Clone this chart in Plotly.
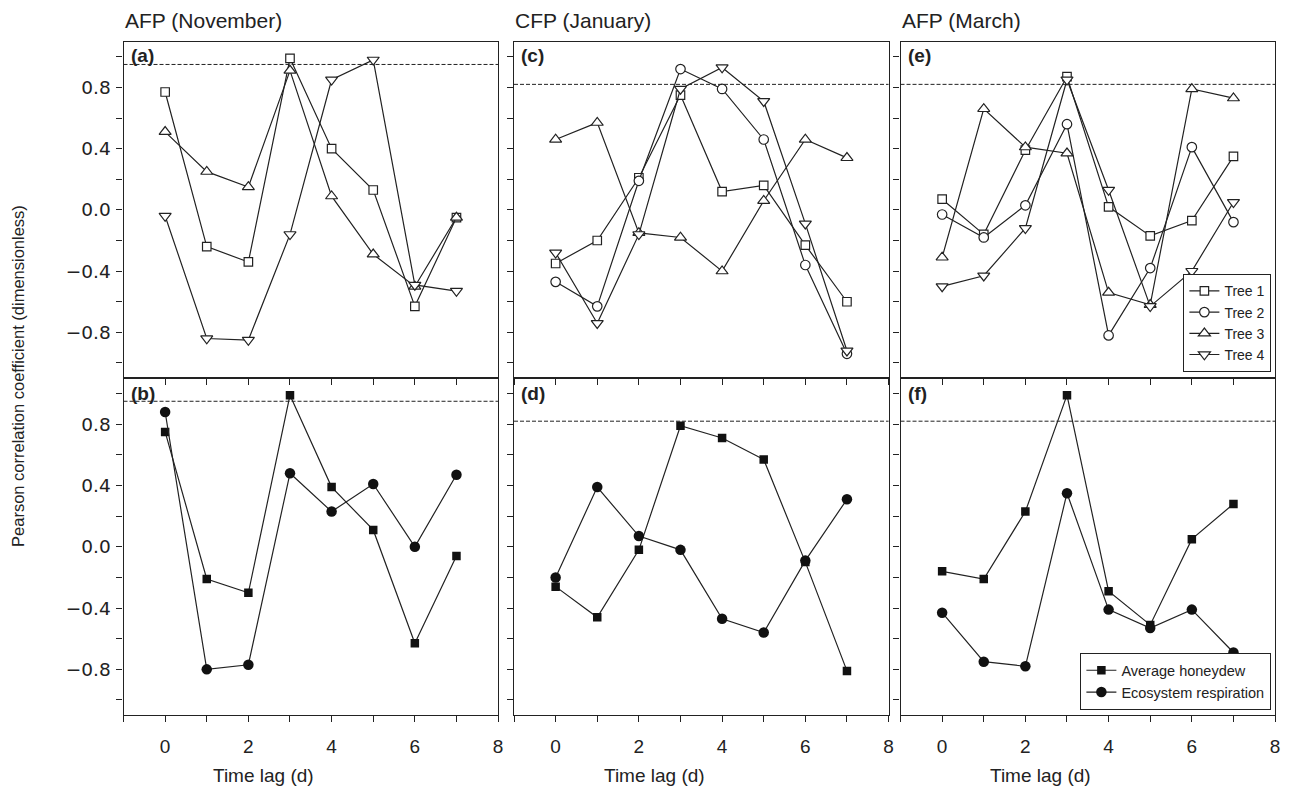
import plotly.graph_objects as go

# ---------------- data ----------------
lags = [0, 1, 2, 3, 4, 5, 6, 7]

# top row: individual trees
nov_tree1 = [0.77, -0.24, -0.34, 0.99, 0.40, 0.13, -0.63, -0.05]
nov_tree3 = [0.51, 0.25, 0.15, 0.91, 0.09, -0.29, -0.50, -0.05]
nov_tree4 = [-0.04, -0.84, -0.85, -0.16, 0.85, 0.98, -0.49, -0.53]

jan_tree1 = [-0.35, -0.20, 0.21, 0.75, 0.12, 0.16, -0.23, -0.60]
jan_tree2 = [-0.47, -0.63, 0.19, 0.92, 0.79, 0.46, -0.36, -0.94]
jan_tree3 = [0.46, 0.57, -0.15, -0.18, -0.40, 0.06, 0.46, 0.34]
jan_tree4 = [-0.28, -0.74, -0.16, 0.79, 0.93, 0.71, -0.09, -0.92]

mar_tree1 = [0.07, -0.16, 0.39, 0.87, 0.02, -0.17, -0.07, 0.35]
mar_tree2 = [-0.03, -0.18, 0.03, 0.56, -0.82, -0.38, 0.41, -0.08]
mar_tree3 = [-0.31, 0.66, 0.41, 0.37, -0.54, -0.62, 0.79, 0.73]
mar_tree4 = [-0.50, -0.43, -0.12, 0.85, 0.13, -0.63, -0.40, 0.05]

# bottom row: average honeydew & ecosystem respiration
nov_honeydew = [0.75, -0.21, -0.30, 0.99, 0.39, 0.11, -0.63, -0.06]
nov_resp = [0.88, -0.80, -0.77, 0.48, 0.23, 0.41, 0.00, 0.47]
jan_honeydew = [-0.26, -0.46, -0.02, 0.79, 0.71, 0.57, -0.10, -0.81]
jan_resp = [-0.20, 0.39, 0.07, -0.02, -0.47, -0.56, -0.09, 0.31]
mar_honeydew = [-0.16, -0.21, 0.23, 0.99, -0.29, -0.51, 0.05, 0.28]
mar_resp = [-0.43, -0.75, -0.78, 0.35, -0.41, -0.53, -0.41, -0.69]

column_titles = ["AFP (November)", "CFP (January)", "AFP (March)"]
panel_labels_top = ["(a)", "(c)", "(e)"]
panel_labels_bottom = ["(b)", "(d)", "(f)"]
thresholds = [0.95, 0.82, 0.82]

tree_names = ["Tree 1", "Tree 2", "Tree 3", "Tree 4"]
tree_symbols = ["square", "circle", "triangle-up", "triangle-down"]
tree_sizes = [8.5, 9.5, 10.5, 10.5]
top_data = [
    {"Tree 1": nov_tree1, "Tree 3": nov_tree3, "Tree 4": nov_tree4},
    {"Tree 1": jan_tree1, "Tree 2": jan_tree2, "Tree 3": jan_tree3, "Tree 4": jan_tree4},
    {"Tree 1": mar_tree1, "Tree 2": mar_tree2, "Tree 3": mar_tree3, "Tree 4": mar_tree4},
]
bottom_data = [
    (nov_honeydew, nov_resp),
    (jan_honeydew, jan_resp),
    (mar_honeydew, mar_resp),
]

# ---------------- layout geometry ----------------
W, H = 1299, 796
col_px = [(124, 500), (516, 892), (904, 1280)]
top_px = (41.5, 378.3)
bot_px = (378.3, 715.3)


def fx(px):
    return px / W


def fy(px):
    return 1 - px / H


INK = "#222222"
FONT_MAIN = "Liberation Sans, Arial, sans-serif"
FONT_NARROW = "Liberation Sans Narrow, Arial Narrow, Liberation Sans, sans-serif"
FONT_TICK = "DejaVu Sans"

fig = go.Figure()
layout = {}
shapes = []
annotations = []

for c in range(3):
    xa_top = 2 * c + 1
    xa_bot = 2 * c + 2
    for idx, (rowpx, is_bottom) in zip([xa_top, xa_bot], [(top_px, False), (bot_px, True)]):
        sx = "" if idx == 1 else str(idx)
        layout["xaxis" + sx] = dict(
            domain=[fx(col_px[c][0]), fx(col_px[c][1])],
            anchor="y" + sx,
            range=[-1, 8],
            tickmode="linear", tick0=0, dtick=2,
            ticks="outside", ticklen=6, tickwidth=1, tickcolor=INK,
            minor=dict(dtick=1, tick0=0, ticks="outside", ticklen=6, tickwidth=1, tickcolor=INK),
            showticklabels=is_bottom,
            tickfont=dict(family=FONT_NARROW, size=19, color=INK),
            ticklabelstandoff=8,
            showline=True, mirror=True, linecolor=INK, linewidth=1.3,
            showgrid=False, zeroline=False,
        )
        layout["yaxis" + sx] = dict(
            domain=[fy(rowpx[1]), fy(rowpx[0])],
            anchor="x" + sx,
            range=[-1.1, 1.1],
            tickmode="linear", tick0=0, dtick=0.4, tickformat=".1f",
            ticks="outside", ticklen=6, tickwidth=1, tickcolor=INK,
            minor=dict(dtick=0.2, tick0=0, ticks="outside", ticklen=6, tickwidth=1, tickcolor=INK),
            showticklabels=(c == 0),
            tickfont=dict(family=FONT_TICK, size=18.5, color=INK),
            ticklabelstandoff=2,
            showline=True, mirror=True, linecolor=INK, linewidth=1.3,
            showgrid=False, zeroline=False,
        )

    # top row traces
    sx = "" if xa_top == 1 else str(xa_top)
    for name, sym, size in zip(tree_names, tree_symbols, tree_sizes):
        if name not in top_data[c]:
            continue
        fig.add_trace(go.Scatter(
            x=lags, y=top_data[c][name], mode="lines+markers", name=name,
            xaxis="x" + sx, yaxis="y" + sx,
            line=dict(color=INK, width=1.2),
            marker=dict(symbol=sym, size=size, color="white", line=dict(color=INK, width=1.2)),
            showlegend=(c == 2), legend="legend",
        ))
    # bottom row traces
    sx = str(xa_bot)
    hd, rs = bottom_data[c]
    fig.add_trace(go.Scatter(
        x=lags, y=hd, mode="lines+markers", name="Average honeydew",
        xaxis="x" + sx, yaxis="y" + sx,
        line=dict(color=INK, width=1.2),
        marker=dict(symbol="square", size=8.5, color="#111111"),
        showlegend=(c == 2), legend="legend2",
    ))
    fig.add_trace(go.Scatter(
        x=lags, y=rs, mode="lines+markers", name="Ecosystem respiration",
        xaxis="x" + sx, yaxis="y" + sx,
        line=dict(color=INK, width=1.2),
        marker=dict(symbol="circle", size=10.5, color="#111111"),
        showlegend=(c == 2), legend="legend2",
    ))

    # threshold dashed lines
    for idx in (xa_top, xa_bot):
        sx = "" if idx == 1 else str(idx)
        shapes.append(dict(
            type="line", xref=("x" + sx + " domain"), yref="y" + sx,
            x0=0, x1=1, y0=thresholds[c], y1=thresholds[c],
            line=dict(color=INK, width=1, dash="4px,2px"),
        ))

    # column titles
    annotations.append(dict(
        text=column_titles[c], xref="paper", yref="paper",
        x=fx(col_px[c][0] - 1), y=fy(20), xanchor="left", yanchor="middle",
        showarrow=False, font=dict(family=FONT_MAIN, size=21, color=INK),
    ))
    # panel labels
    annotations.append(dict(
        text="<b>" + panel_labels_top[c] + "</b>", xref="paper", yref="paper",
        x=fx(col_px[c][0] + 5), y=fy(56), xanchor="left", yanchor="middle",
        showarrow=False, font=dict(family=FONT_MAIN, size=19, color=INK),
    ))
    annotations.append(dict(
        text="<b>" + panel_labels_bottom[c] + "</b>", xref="paper", yref="paper",
        x=fx(col_px[c][0] + 5), y=fy(393), xanchor="left", yanchor="middle",
        showarrow=False, font=dict(family=FONT_MAIN, size=19, color=INK),
    ))

# x axis titles
for cx in (265, 657, 1045):
    annotations.append(dict(
        text="Time lag (d)", xref="paper", yref="paper",
        x=fx(cx), y=fy(775), xanchor="center", yanchor="middle",
        showarrow=False, font=dict(family=FONT_NARROW, size=19, color=INK),
    ))
# y axis title
annotations.append(dict(
    text="Pearson correlation coefficient (dimensionless)", xref="paper", yref="paper",
    x=fx(18), y=fy(376), xanchor="center", yanchor="middle", textangle=-90,
    showarrow=False, font=dict(family=FONT_NARROW, size=16.5, color=INK),
))

fig.update_layout(
    width=W, height=H,
    margin=dict(l=0, r=0, t=0, b=0),
    paper_bgcolor="white", plot_bgcolor="white",
    shapes=shapes, annotations=annotations,
    legend=dict(
        x=fx(1276), y=fy(372), xanchor="right", yanchor="bottom",
        bgcolor="white", bordercolor=INK, borderwidth=1.3,
        font=dict(family=FONT_MAIN, size=14, color=INK),
        itemwidth=30, tracegroupgap=0,
    ),
    legend2=dict(
        x=fx(1276), y=fy(710), xanchor="right", yanchor="bottom",
        bgcolor="white", bordercolor=INK, borderwidth=1.3,
        font=dict(family=FONT_MAIN, size=14.5, color=INK),
        itemwidth=30, tracegroupgap=0,
    ),
    **layout,
)

fig.write_html("out.html", config={"displayModeBar": False},
               post_script="document.body.style.margin='0px';")
